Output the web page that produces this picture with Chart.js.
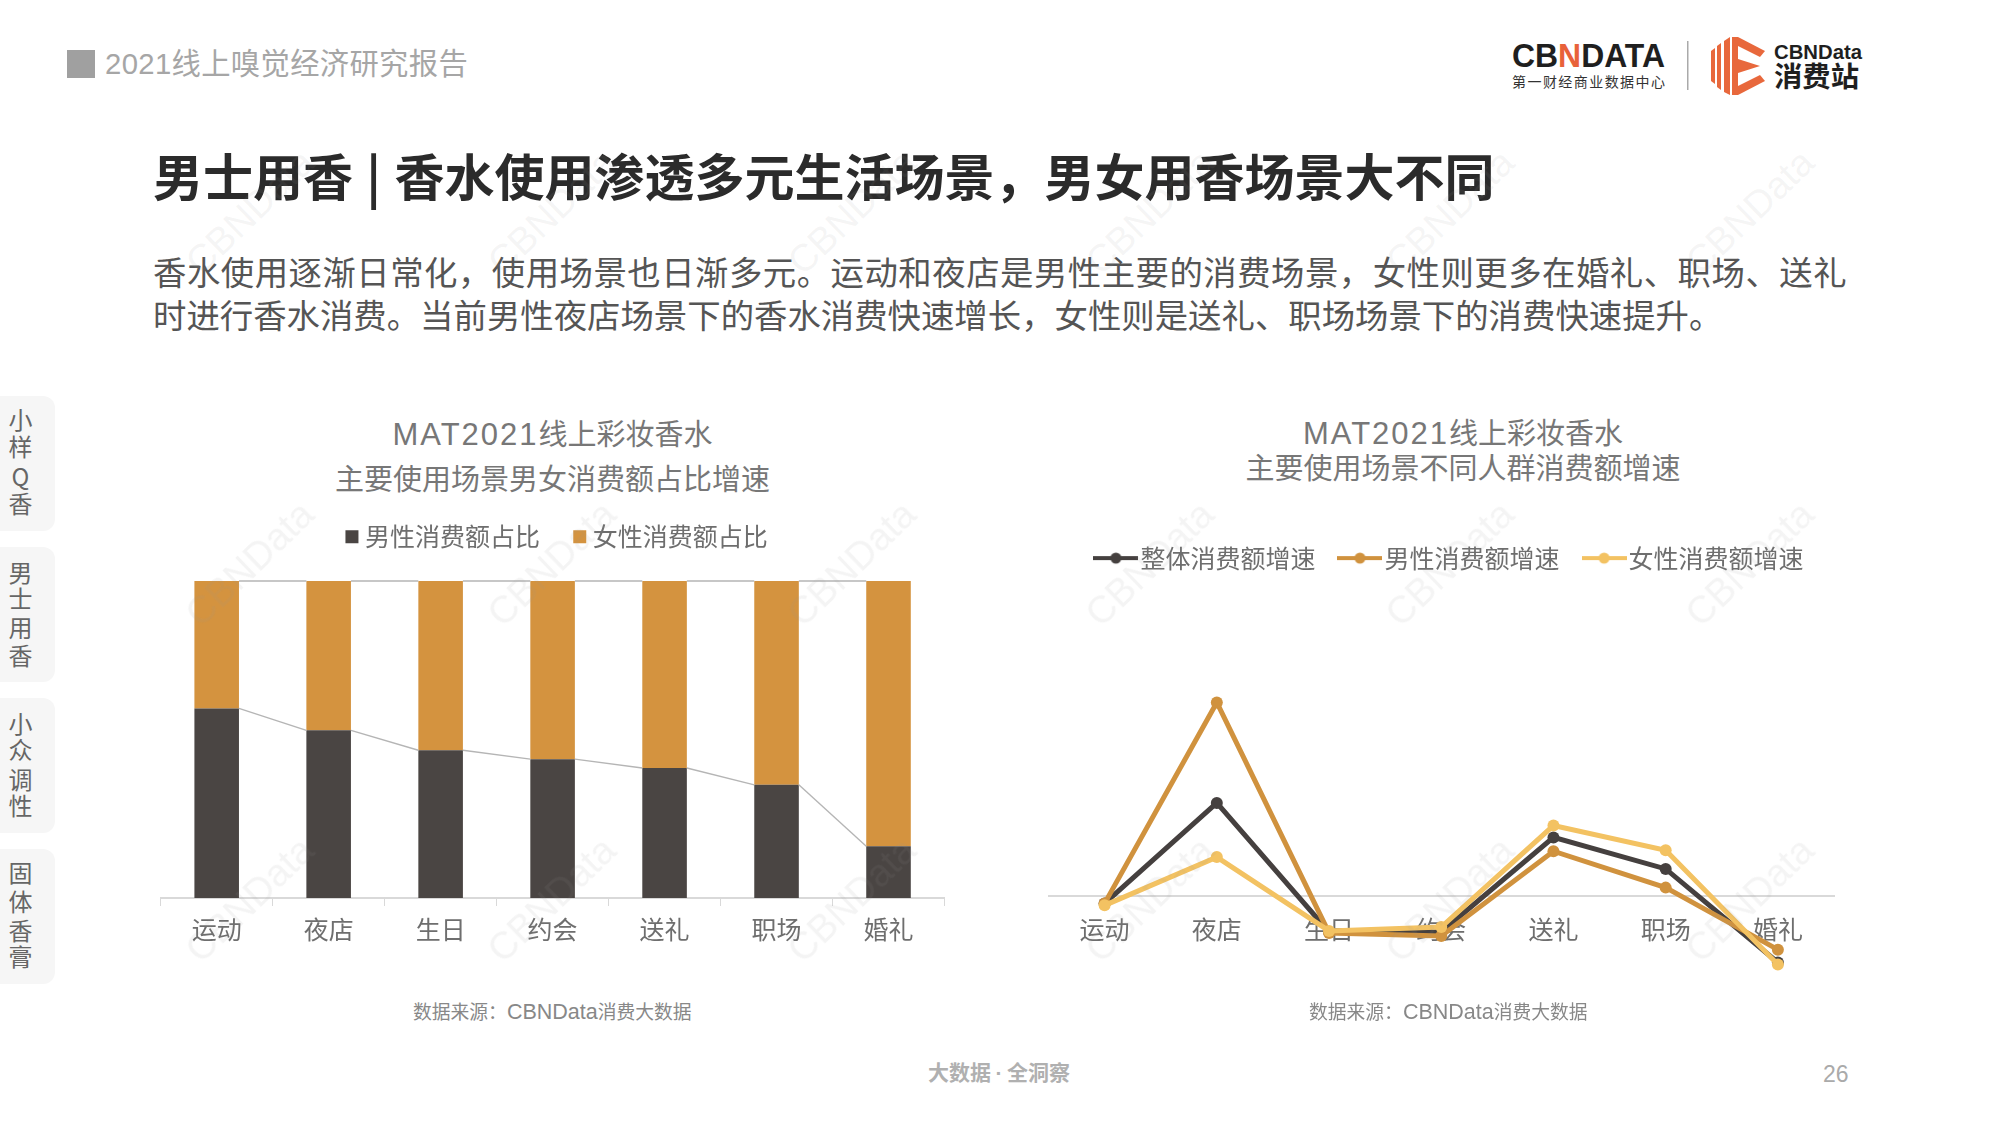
<!DOCTYPE html>
<html lang="zh">
<head>
<meta charset="utf-8">
<title>男士用香</title>
<script src="https://cdn.jsdelivr.net/npm/chart.js@4/dist/chart.umd.min.js"></script>
<style>
html,body{margin:0;padding:0;background:#fff;}
#page{position:relative;width:2001px;height:1125px;overflow:hidden;background:#fff;font-family:"Noto Sans CJK SC","Noto Sans",sans-serif;}
.t{position:absolute;white-space:nowrap;line-height:1;}
.c{transform:translateX(-50%);}
.lat{font-family:"Liberation Sans",sans-serif;}
canvas{position:absolute;}
.tab{position:absolute;left:0;width:55px;height:135px;background:#f6f6f6;border-radius:0 12px 12px 0;}
.tabc{position:absolute;left:8px;width:25px;text-align:center;font-size:24px;line-height:1;color:#666;}
.wm{position:absolute;font:38px "Liberation Sans",sans-serif;color:rgba(150,150,150,.1);transform:translate(-50%,-50%) rotate(-44deg);white-space:nowrap;pointer-events:none;z-index:5;}
</style>
</head>
<body>
<div id="page">
  <div style="position:absolute;left:67px;top:50px;width:28px;height:27.5px;background:#a0a0a0"></div>
  <div class="t" style="left:105px;top:48.5px;font-size:29.3px;letter-spacing:.35px;color:#a6a6a6;font-family:'Liberation Sans','Noto Sans CJK SC',sans-serif">2021线上嗅觉经济研究报告</div>

  <svg style="position:absolute;left:1500px;top:30px" width="370" height="70" viewBox="0 0 370 70">
    <text x="12" y="37" font-family="Liberation Sans" font-weight="700" font-size="34" fill="#1f1f1f" textLength="153" lengthAdjust="spacingAndGlyphs">CB<tspan fill="#e8623a">N</tspan>DATA</text>
    <text x="12" y="57" font-family="Noto Sans CJK SC" font-size="14" fill="#333" textLength="153">第一财经商业数据中心</text>
    <rect x="187" y="11" width="1.5" height="49" fill="#aaa"/>
    <g fill="#e8683c">
      <polygon points="211,21 215,18 215,54 211,51"/>
      <polygon points="217,16 221,13 221,60 217,57"/>
      <polygon points="224,11 230,7 230,65 224,62"/>
      <polygon points="232,7 238,7 238,65 232,65"/>
      <polygon points="238,7 265,21 260,27 238,16"/>
      <polygon points="238,29 260,36 238,43"/>
      <polygon points="238,56 260,45 265,51 238,65"/>
    </g>
    <text x="274" y="29" font-family="Liberation Sans" font-weight="700" font-size="20" fill="#1f1f1f" textLength="88" lengthAdjust="spacingAndGlyphs">CBNData</text>
    <text x="274" y="57" font-family="Noto Sans CJK SC" font-weight="700" font-size="28" fill="#1f1f1f" textLength="85" lengthAdjust="spacingAndGlyphs">消费站</text>
  </svg>

  <div class="t" style="left:153px;top:149px;font-size:50px;font-weight:700;color:#2b2b2b">男士用香<span style="margin:0 2px"> | </span>香水使用渗透多元生活场景，男女用香场景大不同</div>
  <div class="t" style="left:153px;top:254px;font-size:33.4px;color:#555;letter-spacing:.49px">香水使用逐渐日常化，使用场景也日渐多元。运动和夜店是男性主要的消费场景，女性则更多在婚礼、职场、送礼</div>
  <div class="t" style="left:153px;top:297px;font-size:33.4px;color:#555">时进行香水消费。当前男性夜店场景下的香水消费快速增长，女性则是送礼、职场场景下的消费快速提升。</div>

  <div class="tab" style="top:396px"><div class="tabc" style="top:11px">小</div><div class="tabc" style="top:38px">样</div><div class="tabc" style="top:68px">Q</div><div class="tabc" style="top:95px">香</div></div>
  <div class="tab" style="top:547px"><div class="tabc" style="top:13px">男</div><div class="tabc" style="top:39px">士</div><div class="tabc" style="top:68px">用</div><div class="tabc" style="top:96px">香</div></div>
  <div class="tab" style="top:698px"><div class="tabc" style="top:13px">小</div><div class="tabc" style="top:39px">众</div><div class="tabc" style="top:69px">调</div><div class="tabc" style="top:95px">性</div></div>
  <div class="tab" style="top:849px"><div class="tabc" style="top:11px">固</div><div class="tabc" style="top:40px">体</div><div class="tabc" style="top:69px">香</div><div class="tabc" style="top:95px">膏</div></div>

  <div class="t c" style="left:552.5px;top:418px;font-size:29px;color:#777"><span class="lat" style="font-size:31px;letter-spacing:2px">MAT2021</span>线上彩妆香水</div>
  <div class="t c" style="left:552.5px;top:463px;font-size:29px;color:#777">主要使用场景男女消费额占比增速</div>
  <div class="t c" style="left:1463px;top:417px;font-size:29px;color:#777"><span class="lat" style="font-size:31px;letter-spacing:2px">MAT2021</span>线上彩妆香水</div>
  <div class="t c" style="left:1463px;top:452px;font-size:29px;color:#777">主要使用场景不同人群消费额增速</div>

  <canvas id="barChart" width="858" height="477" style="left:137px;top:485px;width:858px;height:477px"></canvas>
  <canvas id="lineChart" width="866" height="487" style="left:1032px;top:513px;width:866px;height:487px"></canvas>

  <div class="t" style="left:413px;top:1001.5px;font-size:18.8px;color:#888">数据来源：<span class="lat" style="font-size:21.5px">CBNData</span>消费大数据</div>
  <div class="t" style="left:1309px;top:1001.5px;font-size:18.8px;color:#888">数据来源：<span class="lat" style="font-size:21.5px">CBNData</span>消费大数据</div>
  <div class="t" style="left:928px;top:1061px;font-size:21px;color:#b0b0b0;font-weight:700">大数据<span class="lat" style="margin:0 4.5px">·</span>全洞察</div>
  <div class="t lat" style="left:1823px;top:1063px;font-size:23px;color:#aaa">26</div>
</div>
<script>
// ---- data ----
const categories = ['运动','夜店','生日','约会','送礼','职场','婚礼'];
const barSeriesNames = ['男性消费额占比','女性消费额占比'];
const maleShare   = [59.8,52.9,46.6,43.8,41.0,35.7,16.3];
const femaleShare = [40.2,47.1,53.4,56.2,59.0,64.3,83.7];
const lineSeriesNames = ['整体消费额增速','男性消费额增速','女性消费额增速'];
const overallGrowth = [-8,94,-37,-37,59,27,-68];
const maleGrowth    = [-8,196,-38,-41,45,8,-55];
const femaleGrowth  = [-10,39,-36,-32,71,46,-70];

const DARK='#4a4543', ORANGE='#d4933f', AMBER='#f3c262', LINE_DARK='#45403f', LINE_ORANGE='#d0923e';
const TEXT='#6e6e6e', FONT='"Noto Sans CJK SC","Noto Sans",sans-serif';
Chart.defaults.font.family=FONT;
Chart.defaults.animation=false;
Chart.defaults.devicePixelRatio=1;

function placedLegend(h,dx){
  return {id:'placedLegend',beforeInit(chart){
    const lg=chart.legend, fit=lg.fit, draw=lg.draw;
    lg.fit=function(){fit.call(this);this.height=h;};
    lg.draw=function(){const c=this.ctx;c.save();c.translate(dx,0);draw.call(this);c.restore();};
  }};
}
const seriesLines={
  id:'seriesLines',
  afterDatasetsDraw(chart){
    const ctx=chart.ctx;
    ctx.save();ctx.strokeStyle='#b5b5b5';ctx.lineWidth=1.4;
    [0,1].forEach(d=>{
      const bars=chart.getDatasetMeta(d).data;
      for(let i=0;i<bars.length-1;i++){
        const a=bars[i],b=bars[i+1];
        ctx.beginPath();
        ctx.moveTo(a.x+a.width/2,a.y);
        ctx.lineTo(b.x-b.width/2,b.y);
        ctx.stroke();
      }
    });
    ctx.restore();
  }
};

new Chart(document.getElementById('barChart'),{
  type:'bar',
  data:{labels:categories,datasets:[
    {label:barSeriesNames[0],data:maleShare,backgroundColor:DARK,borderWidth:0},
    {label:barSeriesNames[1],data:femaleShare,backgroundColor:ORANGE,borderWidth:0}
  ]},
  options:{
    responsive:false,
    layout:{padding:{left:23.7,right:50.5,top:0,bottom:10}},
    datasets:{bar:{categoryPercentage:1,barPercentage:0.398}},
    plugins:{
      tooltip:{enabled:false},
      legend:{display:true,position:'top',labels:{usePointStyle:true,pointStyle:'rect',boxWidth:1,boxHeight:13,padding:39.3,color:TEXT,font:{size:25}}}
    },
    scales:{
      x:{stacked:true,grid:{display:true,drawOnChartArea:false,drawTicks:true,tickLength:8,color:'#d9d9d9',offset:true},border:{color:'#d9d9d9',width:2},
         ticks:{color:TEXT,font:{size:25},padding:8,maxRotation:0}},
      y:{stacked:true,display:false,min:0,max:100}
    }
  },
  plugins:[placedLegend(96,7),seriesLines]
});

function sample(color){
  const c=document.createElement('canvas');c.width=45;c.height=14;
  const x=c.getContext('2d');
  x.fillStyle=color;x.fillRect(0,5,45,4);
  x.beginPath();x.arc(22.5,7,5.5,0,Math.PI*2);x.fill();
  return c;
}
const lineColors=[LINE_DARK,LINE_ORANGE,AMBER];
new Chart(document.getElementById('lineChart'),{
  type:'line',
  data:{labels:categories,datasets:[
    {label:lineSeriesNames[0],data:overallGrowth,order:3},
    {label:lineSeriesNames[1],data:maleGrowth,order:2},
    {label:lineSeriesNames[2],data:femaleGrowth,order:1}
  ].map((d,i)=>Object.assign(d,{borderColor:lineColors[i],backgroundColor:lineColors[i],borderWidth:5,pointRadius:6,pointHoverRadius:6,pointBackgroundColor:lineColors[i],pointBorderWidth:0,tension:0,fill:false,clip:false}))},
  options:{
    responsive:false,
    layout:{padding:{left:16.5,right:64,top:0,bottom:0}},
    plugins:{
      tooltip:{enabled:false},
      legend:{display:true,position:'top',labels:{usePointStyle:true,boxWidth:24,padding:32.6,color:TEXT,font:{size:25},
        generateLabels(chart){return chart.data.datasets.map((d,i)=>({text:d.label,fontColor:TEXT,pointStyle:sample(lineColors[i]),datasetIndex:i,lineWidth:0,fillStyle:lineColors[i],strokeStyle:lineColors[i]}));}
      }}
    },
    scales:{
      x:{position:{y:0},offset:true,grid:{display:false,drawTicks:false},border:{display:true,color:'#d9d9d9',width:2},
         ticks:{color:TEXT,font:{size:25},padding:19,maxRotation:0}},
      y:{display:false,min:-100,max:300}
    }
  },
  plugins:[placedLegend(87,12.5)]
});

// background watermark of the slide
const page=document.getElementById('page');
[250,552,852,1150,1450,1750].forEach(x=>[212,564,900].forEach(y=>{
  const w=document.createElement('div');w.className='wm';w.textContent='CBNData';w.style.left=x+'px';w.style.top=y+'px';page.appendChild(w);
}));
</script>
</body>
</html>
